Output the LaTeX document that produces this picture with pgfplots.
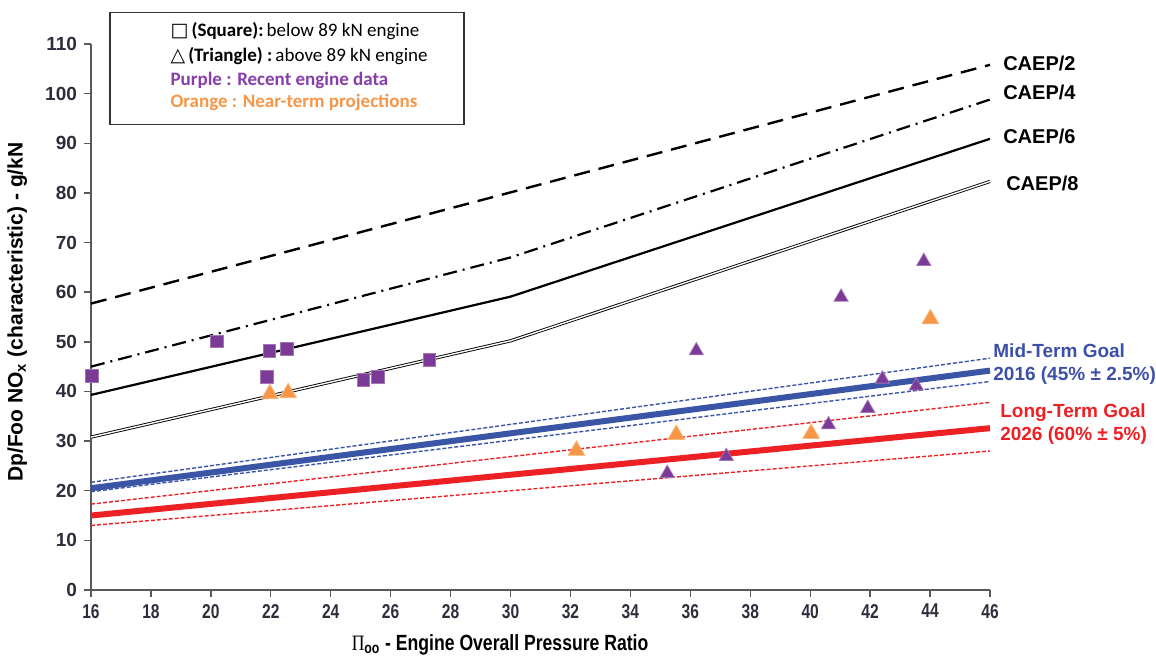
\documentclass[border=0pt]{standalone}
\usepackage{graphicx}
\usepackage{pgfplots}
\pgfplotsset{compat=1.18}
\usepackage{fontspec}
\setmainfont{Liberation Sans}
\newfontfamily\calfont{Carlito}
\newfontfamily\symfont{DejaVu Sans}
\newfontfamily\serfont{Liberation Serif}
\definecolor{pur}{RGB}{122,58,150}
\definecolor{purtxt}{RGB}{136,62,170}
\definecolor{org}{RGB}{247,150,70}
\definecolor{blu}{RGB}{58,84,166}
\definecolor{blutxt}{RGB}{60,80,170}
\definecolor{rd}{RGB}{237,32,36}
\definecolor{tickc}{RGB}{45,45,60}
\begin{document}
\begin{tikzpicture}
\useasboundingbox (-45.5pt,-33pt) rectangle (532.5pt,295pt);
\begin{axis}[
  at={(0,0)}, anchor=south west, scale only axis,
  width=449.5pt, height=273pt,
  xmin=16, xmax=46, ymin=0, ymax=110,
  xtick={16,18,...,46}, ytick={0,10,...,110},
  axis x line=bottom, axis y line=left,
  axis line style={-, black!65, line width=0.8pt},
  tick align=outside, major tick length=3.5pt,
  tick style={black!65, line width=0.7pt},
  /pgf/number format/assume math mode=true,
  yticklabel style={font=\bfseries\fontsize{9.5}{11}\selectfont, text=tickc},
  xticklabel style={font=\bfseries\fontsize{10}{11}\selectfont, text=tickc},
  xticklabel={\scalebox{0.78}[1]{\pgfmathprintnumber{\tick}}},
  clip=false,
]
% CAEP lines
\addplot[black, line width=1.2pt, dash pattern=on 8pt off 4.5pt] coordinates {(16,57.7) (30,80.1) (46,105.8)};
\addplot[black, line width=1.1pt, dash pattern=on 7pt off 3pt on 1pt off 3pt] coordinates {(16,45) (30,67) (46,98.8)};
\addplot[black, line width=1.1pt] coordinates {(16,39.3) (30,59.1) (46,90.9)};
\addplot[black, line width=0.45pt, double=white, double distance=0.7pt] coordinates {(16,30.8) (30,50.2) (46,82.3)};
% Goals
\addplot[blu, line width=0.7pt, dash pattern=on 2pt off 1pt] coordinates {(16,21.7) (46,46.7)};
\addplot[blu, line width=0.7pt, dash pattern=on 2pt off 1pt] coordinates {(16,19.8) (46,42.0)};
\addplot[blu, line width=3pt] coordinates {(16,20.5) (46,44.2)};
\addplot[rd, line width=0.7pt, dash pattern=on 2pt off 1pt] coordinates {(16,17.3) (46,37.8)};
\addplot[rd, line width=0.7pt, dash pattern=on 2pt off 1pt] coordinates {(16,13.0) (46,28.0)};
\addplot[rd, line width=3pt] coordinates {(16,15.0) (46,32.6)};
% markers
\addplot[only marks, mark=square*, mark size=3.2pt, pur, mark options={draw=pur!70!white}] coordinates {
 (16.02,43.2) (20.19,50.1) (21.95,48.2) (22.55,48.5) (21.86,43.0) (25.09,42.3) (25.57,43.0) (27.29,46.4)};
\addplot[only marks, mark=triangle*, mark size=4.1pt, pur, mark options={draw=pur!70!white}] coordinates {
 (43.79,66.2) (41.03,59.0) (36.2,48.2) (42.41,42.5) (43.54,41.1) (41.92,36.6) (40.61,33.3) (37.2,26.9) (35.23,23.5)};
\addplot[only marks, mark=triangle*, mark size=4.8pt, org, mark options={draw=org!70!white}] coordinates {
 (21.97,39.5) (22.58,39.7) (32.2,28.1) (35.53,31.3) (40.03,31.5) (44.01,54.6)};
% CAEP labels
\begin{scope}[every node/.style={anchor=west, inner sep=0pt, font=\bfseries\fontsize{10}{12}\selectfont}]
\node at (axis cs:46.43,106) {CAEP/2};
\node at (axis cs:46.43,100.2) {CAEP/4};
\node at (axis cs:46.43,91.3) {CAEP/6};
\node at (axis cs:46.53,82.0) {CAEP/8};
\end{scope}
\node[anchor=west, inner sep=0pt, align=left, text=blutxt, font=\bfseries\fontsize{9.5}{11.5}\selectfont] at (axis cs:46.10,45.45) {Mid-Term Goal\\2016 (45\% ± 2.5\%)};
\node[anchor=west, inner sep=0pt, align=left, text=rd, font=\bfseries\fontsize{9.5}{11.5}\selectfont] at (axis cs:46.33,33.35) {Long-Term Goal\\2026 (60\% ± 5\%)};
% legend box
\draw[black!80, line width=0.75pt, fill=white] (axis cs:16.63,116.3) rectangle (axis cs:28.45,93.75);
\begin{scope}[every node/.style={anchor=west, inner sep=0pt, font=\calfont\fontsize{9.5}{11}\selectfont}]
\node at (axis cs:18.64,112.5) {{\symfont □}\,\textbf{(Square):}\,below 89 kN engine};
\node at (axis cs:18.64,107.5) {{\symfont △}\,\textbf{(Triangle) :}\,above 89 kN engine};
\node[text=purtxt] at (axis cs:18.64,102.6) {\textbf{Purple : Recent engine data}};
\node[text=org] at (axis cs:18.64,98.2) {\textbf{Orange : Near-term projections}};
\end{scope}
% axis labels
\node[rotate=90, font=\bfseries\fontsize{10.5}{12}\selectfont] at (rel axis cs:-0.082,0.509) {Dp/Foo NO\textsubscript{x} (characteristic) - g/kN};
\node[font=\bfseries\fontsize{11}{12}\selectfont] at (rel axis cs:0.455,-0.1007) {\scalebox{0.8}[1]{{\serfont\mdseries Π}\textsubscript{oo} - Engine Overall  Pressure Ratio}};
\end{axis}
\end{tikzpicture}
\end{document}
